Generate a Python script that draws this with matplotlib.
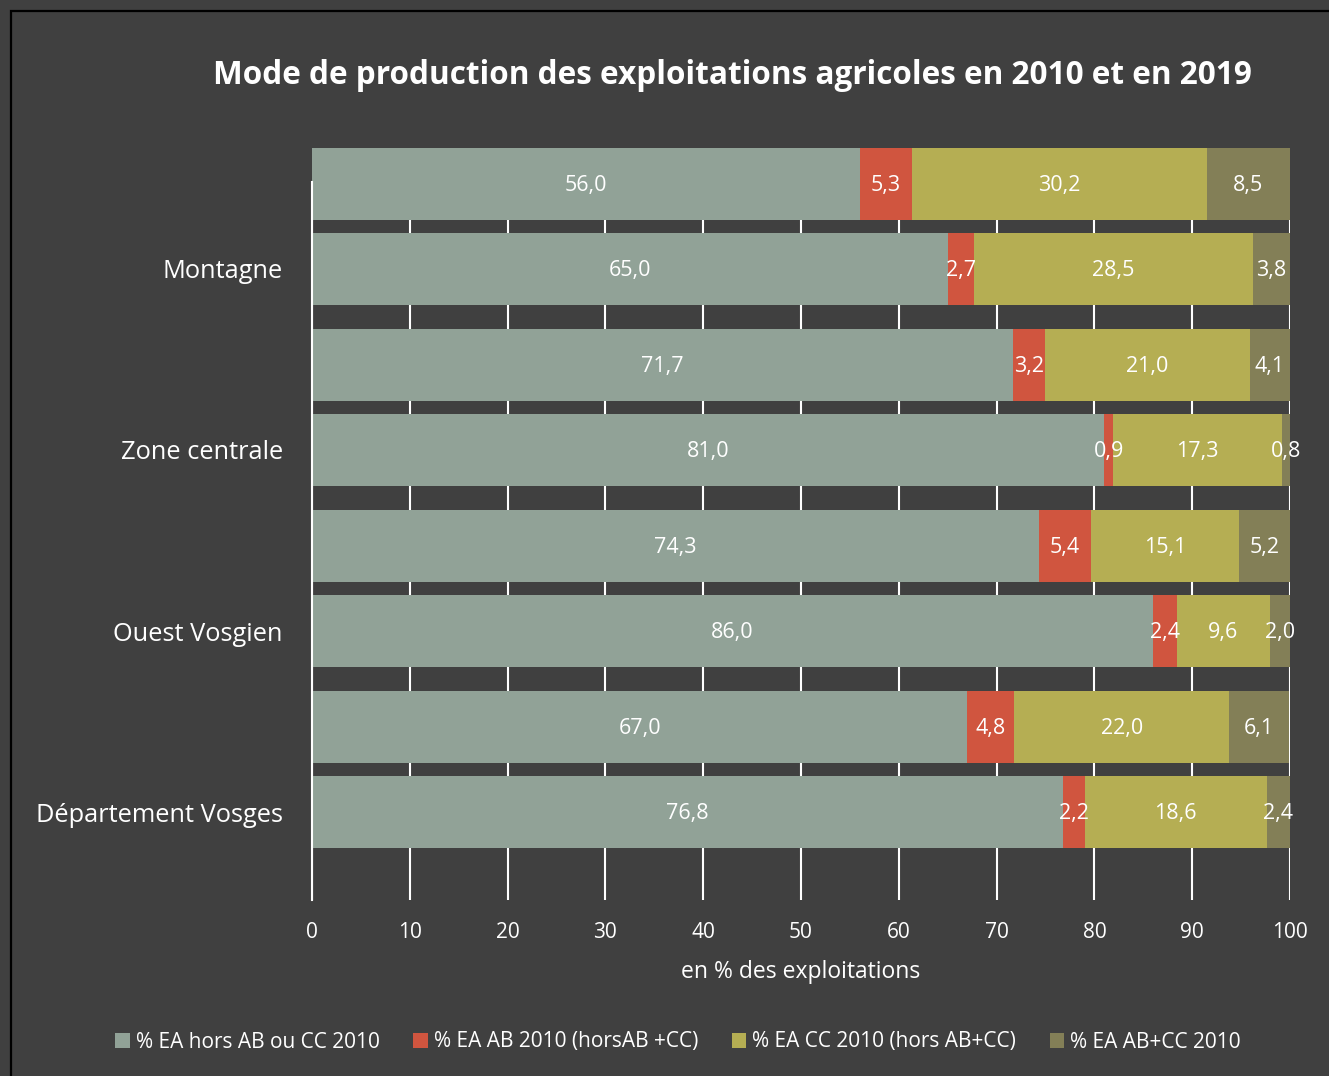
import matplotlib
matplotlib.use("Agg")
import matplotlib.pyplot as plt
from matplotlib.patches import Rectangle
import numpy as np

# Data
bar_labels = ["", "Montagne", "", "Zone centrale", "", "Ouest Vosgien", "", "Département Vosges"]
series_names = ["% EA hors AB ou CC 2010", "% EA AB 2010 (horsAB +CC)",
                "% EA CC 2010 (hors AB+CC)", "% EA AB+CC 2010"]
hors_ab_cc = [56.0, 65.0, 71.7, 81.0, 74.3, 86.0, 67.0, 76.8]
ab_only = [5.3, 2.7, 3.2, 0.9, 5.4, 2.4, 4.8, 2.2]
cc_only = [30.2, 28.5, 21.0, 17.3, 15.1, 9.6, 22.0, 18.6]
ab_cc = [8.5, 3.8, 4.1, 0.8, 5.2, 2.0, 6.1, 2.4]
x_ticks = [0, 10, 20, 30, 40, 50, 60, 70, 80, 90, 100]

colors = ["#91a297", "#d0553f", "#b5ae53", "#837f57"]
BG = "#404040"
FONT = "Open Sans"

W, H = 1329, 1076
fig = plt.figure(figsize=(W / 100, H / 100), dpi=100, facecolor=BG)

# Outer frame line
fig.patches.append(Rectangle((11 / W, -0.05), 1.2, 1 - 11 / H + 0.05,
                             transform=fig.transFigure, fill=False,
                             edgecolor="#000000", linewidth=1.6))

ax = fig.add_axes([312 / W, (H - 900) / H, (1290 - 312) / W, (900 - 182) / H])
ax.set_facecolor(BG)

# Bars are arranged in pairs; pairs are separated slightly more
pair_gap = 1.13
positions = []
for i in range(len(bar_labels)):
    positions.append((i // 2) * (1 + pair_gap) + (i % 2))
positions = np.array(positions)
bar_h = 0.847

series = [hors_ab_cc, ab_only, cc_only, ab_cc]
left = np.zeros(len(positions))
for vals, col, name in zip(series, colors, series_names):
    vals = np.array(vals)
    ax.barh(positions, vals, left=left, height=bar_h, color=col,
            edgecolor="none", label=name, zorder=3, clip_on=False)
    for y, l, v in zip(positions, left, vals):
        ax.text(l + v / 2, y + 0.02, f"{v:.1f}".replace(".", ","), ha="center",
                va="center", color="white", fontsize=15.5, family=FONT,
                zorder=5)
    left += vals

ax.set_xlim(0, 100)
ax.set_ylim(positions[-1] + (900 - 812) / 85, positions[0] - 2 / 85)
ax.set_xticks(x_ticks)
ax.set_xticklabels([str(t) for t in x_ticks])
ax.set_yticks(positions)
ax.set_yticklabels(bar_labels)

ax.grid(axis="x", color="white", linewidth=1.5, zorder=0)
ax.grid(axis="y", visible=False)
for s in ["top", "right", "bottom"]:
    ax.spines[s].set_visible(False)
ax.spines["left"].set_color("white")
ax.spines["left"].set_linewidth(1.5)
ax.spines["left"].set_zorder(4)

ax.tick_params(axis="x", length=0, pad=16, colors="white", labelsize=15)
ax.tick_params(axis="y", length=0, pad=21, colors="white", labelsize=18.3)
for lab in ax.get_xticklabels() + ax.get_yticklabels():
    lab.set_family(FONT)

ax.set_xlabel("en % des exploitations", color="white", fontsize=16.5,
              family=FONT, labelpad=12)

fig.text(732 / W, 1 - 76 / H,
         "Mode de production des exploitations agricoles en 2010 et en 2019",
         ha="center", va="center", color="white", fontsize=22.7,
         fontweight="bold", family=FONT)

leg = fig.legend(loc="center", bbox_to_anchor=(678 / W, 1 - 1042 / H), ncol=4,
                 frameon=False, handlelength=0.7, handleheight=0.7,
                 handletextpad=0.3, columnspacing=1.6,
                 prop={"family": FONT, "size": 15})
for t in leg.get_texts():
    t.set_color("white")

fig.savefig("out.png", dpi=100, facecolor=BG)
